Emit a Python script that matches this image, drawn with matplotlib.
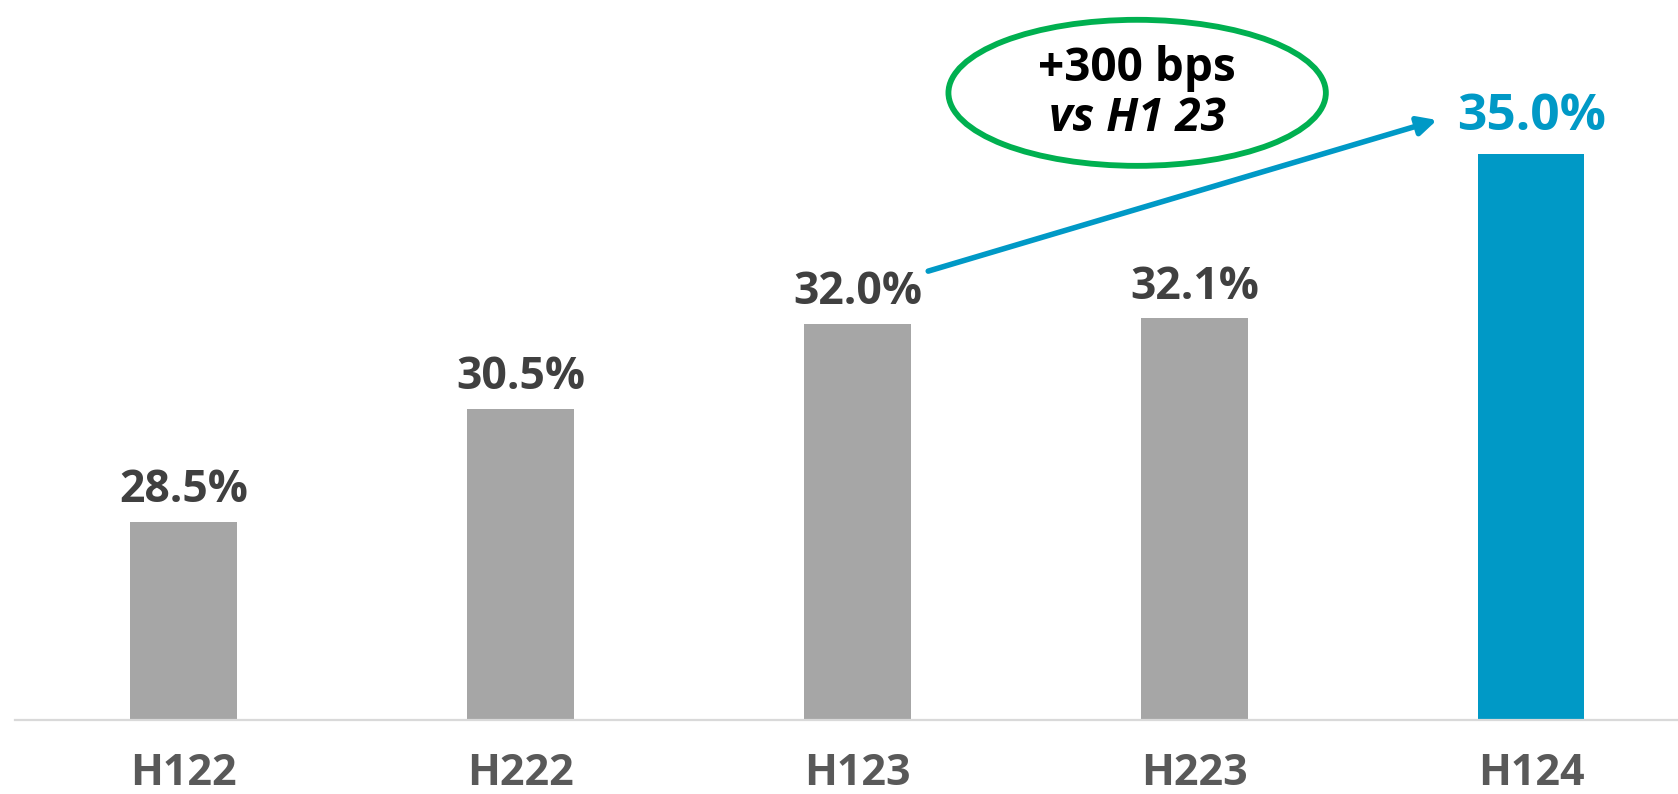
import matplotlib.pyplot as plt
from matplotlib.patches import Ellipse
import numpy as np

# data
categories = ['H122', 'H222', 'H123', 'H223', 'H124']
margin = [28.5, 30.5, 32.0, 32.1, 35.0]
value_labels = ['28.5%', '30.5%', '32.0%', '32.1%', '35.0%']
callout_lines = ['+300 bps', 'vs H1 23']

grey = '#A6A6A6'
blue = '#0099C6'
green = '#00B050'
label_col = '#404040'
cat_col = '#595959'

plt.rcParams['font.family'] = ['Open Sans', 'DejaVu Sans']

W, H = 1678, 794
fig = plt.figure(figsize=(W / 100, H / 100), dpi=100)
ax = fig.add_axes([15 / W, 74 / H, 1 - 15 / W, 720 / H])

x = np.arange(len(categories))
colors = [grey] * (len(categories) - 1) + [blue]
ax.bar(x, margin, width=0.315, color=colors, bottom=0, zorder=2)

ax.set_xlim(-0.5, 4.435)
ax.set_ylim(25, 37.72)

for s in ['top', 'right', 'left']:
    ax.spines[s].set_visible(False)
ax.spines['bottom'].set_color('#D9D9D9')
ax.spines['bottom'].set_linewidth(1.6)
ax.set_xticks([])
ax.set_yticks([])

# value labels
for i, (v, lab) in enumerate(zip(margin, value_labels)):
    if i == len(margin) - 1:
        ax.annotate(lab, xy=(i, v), xytext=(0, 17), textcoords='offset points',
                    ha='center', va='baseline', fontsize=37, fontweight='bold', color=blue)
    else:
        ax.annotate(lab, xy=(i, v), xytext=(0, 14), textcoords='offset points',
                    ha='center', va='baseline', fontsize=32, fontweight='bold', color=label_col)

# category labels
for i, c in enumerate(categories):
    ax.annotate(c, xy=(i, 25), xytext=(0, -47), textcoords='offset points',
                ha='center', va='baseline', fontsize=31, fontweight='bold', color=cat_col,
                annotation_clip=False)

# arrow H123 -> H124
ax.annotate('', xy=(x[4] - 0.28, margin[4] + 0.6), xytext=(x[2] + 0.21, margin[2] + 0.93),
            arrowprops=dict(arrowstyle='-|>', color=blue, lw=4, mutation_scale=28,
                            shrinkA=0, shrinkB=0))

# green callout
ex, ey = 2.83, 36.08
ax.add_patch(Ellipse((ex, ey), 1.12, 2.58, fill=False, edgecolor=green, lw=4.2, clip_on=False))
ax.text(ex, 36.29, callout_lines[0], ha='center', va='baseline', fontsize=33,
        fontweight='bold', color='black')
ax.text(ex, 35.4, callout_lines[1], ha='center', va='baseline', fontsize=33,
        fontweight='bold', style='italic', color='black')

fig.savefig('out.png', dpi=100)
